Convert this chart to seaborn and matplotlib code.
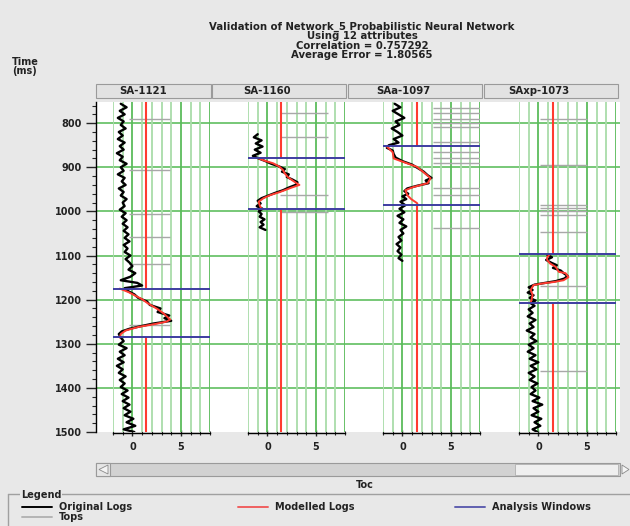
import numpy as np
import pandas as pd
import matplotlib
matplotlib.use("Agg")
import matplotlib.pyplot as plt
import seaborn as sns
from matplotlib.patches import Rectangle, Polygon
from matplotlib.lines import Line2D

sns.set_style("white")
plt.rcParams['font.family'] = ['DejaVu Sans']
plt.rcParams['font.weight'] = 'bold'

# ---------------- data ----------------
wells = ["SA-1121", "SA-1160", "SAa-1097", "SAxp-1073"]
title_lines = ["Validation of Network_5 Probabilistic Neural Network",
               "Using 12 attributes",
               "Correlation = 0.757292",
               "Average Error = 1.80565"]
time_ticks = [800, 900, 1000, 1100, 1200, 1300, 1400, 1500]
toc_ticks = [0, 5]

# Original logs (time ms, TOC)
orig1_t = [756, 764, 772, 780, 788, 796, 804, 812, 820, 828, 836, 844, 852, 860, 868, 876, 884, 892,
           900, 908, 916, 924, 932, 940, 948, 956, 964, 972, 980, 988, 996, 1004, 1012, 1020, 1028,
           1036, 1044, 1052, 1060, 1068, 1076, 1084, 1092, 1100, 1108, 1116, 1124, 1132, 1140, 1148,
           1156, 1162, 1168, 1174, 1180, 1188, 1196, 1204, 1212, 1220, 1228, 1236, 1242, 1248, 1254,
           1260, 1266, 1272, 1278, 1286, 1294, 1302, 1310, 1318, 1326, 1334, 1342, 1350, 1358, 1366,
           1374, 1382, 1390, 1398, 1406, 1414, 1422, 1430, 1438, 1446, 1454, 1462, 1470, 1478, 1486,
           1494, 1500]
orig1_v = [-1.2, -0.6, -1.3, -0.8, -1.5, -0.9, -1.2, -0.7, -1.4, -1.0, -1.5, -0.8, -1.3, -0.9, -1.6,
           -1.0, -1.3, -0.6, -1.2, -0.9, -1.5, -0.8, -1.1, -0.7, -1.4, -0.9, -1.2, -0.6, -1.0, -0.8,
           -1.3, -0.7, -1.1, -0.6, -1.0, -0.5, -0.9, -0.4, -0.8, -0.3, -0.9, -0.5, -0.8, -0.2, -0.7,
           -0.3, 0.0, -0.4, 0.3, -0.2, -1.2, 0.5, 1.0, -0.8, -0.5, 0.2, 0.6, 1.5, 1.8, 2.9, 2.6, 3.8,
           3.3, 4.0, 2.2, 0.9, -0.3, -1.1, -1.4, -1.2, -0.9, -1.4, -0.6, -1.3, -0.8, -1.5, -0.9, -1.6,
           -1.0, -1.4, -0.7, -1.3, -0.8, -1.2, -0.5, -1.1, -0.4, -1.0, -0.3, -0.9, -0.2, -0.8, 0.1,
           -0.6, 0.3, -0.9, 0.2]

orig2_t = [825, 832, 839, 846, 853, 860, 867, 874, 880, 886, 892, 898, 904, 910, 916, 922, 928, 934,
           940, 946, 952, 958, 964, 970, 976, 982, 988, 994, 1000, 1006, 1012, 1018, 1024, 1030,
           1036, 1042]
orig2_v = [-1.0, -1.4, -0.6, -1.2, -0.5, -1.3, -0.7, -1.5, -0.9, -0.2, 0.4, 1.2, 1.8, 1.5, 2.2, 2.0,
           2.6, 3.1, 2.9, 2.2, 1.6, 0.8, 0.1, -0.6, -1.0, -0.7, -1.1, -0.5, -0.9, -0.6, -0.8, -0.3,
           -0.7, -0.4, -0.8, -0.2]

orig3_t = [756, 764, 772, 780, 788, 796, 804, 812, 820, 828, 836, 844, 850, 856, 862, 870, 878, 886,
           894, 902, 910, 918, 924, 930, 936, 942, 948, 954, 960, 966, 972, 978, 986, 994, 1002,
           1010, 1018, 1026, 1034, 1042, 1050, 1058, 1066, 1074, 1082, 1090, 1098, 1106, 1112]
orig3_v = [-0.8, -0.2, -1.0, -0.4, 0.2, -0.7, -0.3, -1.1, -0.5, 0.0, -0.9, -0.4, -1.4, -1.6, -1.0,
           -0.9, -0.7, 0.0, 1.0, 1.6, 2.2, 2.6, 3.0, 2.4, 2.7, 1.5, 0.5, 0.2, 0.6, 0.0, 0.4, -0.2,
           0.3, -0.3, 0.2, -0.5, 0.1, -0.3, 0.4, -0.2, 0.1, -0.4, -0.1, -0.6, -0.2, -0.5, -0.1, -0.4,
           0.0]

orig4_t = [1098, 1104, 1110, 1116, 1122, 1128, 1134, 1140, 1146, 1152, 1158, 1162, 1166, 1172, 1178,
           1184, 1190, 1196, 1202, 1208, 1214, 1222, 1230, 1238, 1246, 1254, 1262, 1270, 1278, 1286,
           1294, 1302, 1310, 1318, 1326, 1334, 1342, 1350, 1358, 1366, 1374, 1382, 1390, 1398, 1406,
           1414, 1422, 1430, 1438, 1446, 1454, 1462, 1470, 1478, 1486, 1494, 1500]
orig4_v = [0.9, 1.4, 0.8, 1.3, 1.9, 1.5, 2.3, 2.6, 3.0, 2.7, 1.8, 0.7, -0.4, -1.0, -0.6, -1.1, -0.5,
           -0.9, -0.3, -0.8, -0.4, -1.0, -0.6, -1.1, -0.3, -0.9, -0.5, -1.2, -0.4, -0.8, -0.2, -1.0,
           -0.5, -1.1, -0.3, -0.9, 0.0, -0.8, -0.2, -1.0, -0.4, -0.9, -0.1, -0.7, -0.3, -0.8, 0.1,
           -0.6, 0.4, -0.5, 0.0, -0.7, 0.3, -0.4, 0.2, -0.6, -0.1]

# Modelled logs inside analysis windows
mod1_t = [1175, 1183, 1191, 1199, 1207, 1215, 1223, 1231, 1239, 1245, 1250, 1255, 1262, 1270, 1278, 1286]
mod1_v = [-1.3, -0.4, 0.3, 1.0, 1.5, 2.1, 2.7, 3.2, 3.6, 3.9, 3.5, 2.4, 0.6, -0.7, -1.2, -1.3]
mod2_t = [879, 885, 891, 898, 906, 914, 922, 930, 936, 940, 946, 956, 963, 970, 978, 986, 995]
mod2_v = [-1.0, -0.3, 0.6, 1.2, 1.6, 1.8, 2.1, 2.6, 3.0, 3.3, 2.5, 1.3, 0.3, -0.4, -0.9, -0.8, -0.6]
mod3_t = [853, 866, 880, 888, 899, 908, 917, 925, 936, 945, 952, 963, 972, 981, 986]
mod3_v = [-1.6, -1.0, -0.9, 0.1, 1.5, 2.0, 2.5, 2.9, 2.6, 1.1, 0.3, 0.5, 0.9, 1.5, 1.6]
mod4_t = [1097, 1104, 1110, 1118, 1126, 1137, 1140, 1149, 1156, 1160, 1163, 1167, 1178, 1189, 1200, 1207]
mod4_v = [1.2, 0.9, 0.9, 1.2, 1.8, 2.1, 2.8, 3.1, 2.6, 1.6, 0.5, -0.5, -0.8, -0.6, -0.7, -0.8]
modelled_base = [1.4, 1.45, 1.5, 1.5]

# Analysis windows (top, bottom ms)
windows = [(1175, 1285), (880, 995), (852, 986), (1097, 1208)]

# Tops (ms) and their TOC extent
tops1 = [790, 905, 1005, 1058, 1120, 1258]
tops2 = [778, 832, 962, 1002]
tops3 = [765, 778, 790, 800, 808, 842, 866, 880, 890, 948, 962, 1038]
tops4 = [790, 895, 985, 993, 1000, 1008, 1047, 1168, 1362]
tops_span = [(-0.3, 3.9), (1.3, 6.2), (3.2, 8.2), (0.2, 5.0)]

orig_t = [orig1_t, orig2_t, orig3_t, orig4_t]
orig_v = [orig1_v, orig2_v, orig3_v, orig4_v]
mod_t = [mod1_t, mod2_t, mod3_t, mod4_t]
mod_v = [mod1_v, mod2_v, mod3_v, mod4_v]
tops = [tops1, tops2, tops3, tops4]

# ---------------- layout ----------------
W, H = 630, 526
BG = '#e8e8e8'
fig = plt.figure(figsize=(6.3, 5.26), dpi=100, facecolor=BG)


def fax(x0, y0, x1, y1):
    return [x0 / W, 1 - y1 / H, (x1 - x0) / W, (y1 - y0) / H]


def fx(x):
    return x / W


def fy(y):
    return 1 - y / H


YTOP, YBOT = 752, 1500
GREEN_H = '#6cc46c'
GREEN_D = '#5cbc5c'
GREEN_L = '#a9dca9'
RED = '#ff3b30'
BLUE = '#3c3ca0'
GRAY = '#a8a8a8'
FS = 7.0
FT = 7.3

ax0 = fig.add_axes(fax(96, 102, 620, 432))
ax0.set_facecolor('white')
ax0.set_xlim(0, 1)
ax0.set_ylim(YBOT, YTOP)
ax0.hlines(time_ticks[:-1], 0, 1, color=GREEN_H, lw=1.3, zorder=1)
ax0.set_yticks(time_ticks)
ax0.set_yticks(np.arange(760, 1500, 20), minor=True)
ax0.tick_params(axis='y', which='major', direction='out', length=7, width=1, pad=3, left=True,
                labelsize=FS, labelcolor='#222222')
ax0.tick_params(axis='y', which='minor', direction='out', length=3, width=0.8, left=True)
ax0.set_yticklabels([str(t) for t in time_ticks])
ax0.set_xticks([])
for s in ['top', 'right', 'bottom']:
    ax0.spines[s].set_visible(False)
ax0.spines['left'].set_color('black')
ax0.spines['left'].set_linewidth(1)

track_left = [113, 248, 383, 519]
TW = 97
for i, w in enumerate(wells):
    x0 = track_left[i]
    ax = fig.add_axes(fax(x0, 102, x0 + TW, 432))
    ax.patch.set_alpha(0)
    ax.set_xlim(-2, 8)
    ax.set_ylim(YBOT, YTOP)
    for v in range(-2, 9):
        ax.axvline(v, color=GREEN_D if v in (0, 5, 8) else GREEN_L, lw=1.3, zorder=1)
    # tops
    ax.hlines(tops[i], tops_span[i][0], tops_span[i][1], color=GRAY, lw=1.0, zorder=2)
    # modelled baseline outside window
    wt, wb = windows[i]
    ax.vlines(modelled_base[i], YTOP, wt, color=RED, lw=1.5, zorder=3)
    ax.vlines(modelled_base[i], wb, YBOT, color=RED, lw=1.5, zorder=3)
    # original log
    df_o = pd.DataFrame({'toc': orig_v[i], 'time': orig_t[i]})
    sns.lineplot(data=df_o, x='toc', y='time', orient='y', estimator=None, color='black',
                 lw=1.7, ax=ax, zorder=4)
    df_m = pd.DataFrame({'toc': mod_v[i], 'time': mod_t[i]})
    sns.lineplot(data=df_m, x='toc', y='time', orient='y', estimator=None, color=RED,
                 lw=1.4, ax=ax, zorder=5)
    ax.hlines([wt, wb], -2, 8, color=BLUE, lw=1.4, zorder=6)
    ax.set_ylim(YBOT, YTOP)
    ax.set_xlim(-2, 8)
    ax.set_xlabel('')
    ax.set_ylabel('')
    ax.set_yticks([])
    ax.set_xticks(toc_ticks)
    ax.set_xticks(range(-2, 9), minor=True)
    ax.tick_params(axis='x', which='major', direction='inout', length=5, width=1, pad=4, bottom=True,
                   labelsize=FS, labelcolor='#222222')
    ax.tick_params(axis='x', which='minor', direction='inout', length=3, width=0.8, bottom=True)
    ax.set_xticklabels([str(t) for t in toc_ticks])
    for s in ['top', 'right', 'left']:
        ax.spines[s].set_visible(False)
    ax.spines['bottom'].set_color('black')
    ax.spines['bottom'].set_linewidth(1)
    ax.spines['bottom'].set_position(('outward', 1))

# header boxes
hdr = [(96, 211), (212, 346), (348, 482), (484, 618)]
for (a, b), w in zip(hdr, wells):
    fig.add_artist(Rectangle((fx(a), fy(98)), (b - a) / W, 14 / H, transform=fig.transFigure,
                             facecolor='#e2e2e2', edgecolor='#9a9a9a', lw=0.8))
    fig.text(fx(a + 0.41 * (b - a)), fy(91), w, ha='center', va='center', fontsize=FT,
             color='#222222')

# title
for k, line in enumerate(title_lines):
    fig.text(fx(362), fy(27 + 9.3 * k), line, ha='center', va='center', fontsize=FT,
             color='#222222')
fig.text(fx(12), fy(62), "Time", ha='left', va='center', fontsize=FS, color='#222222')
fig.text(fx(12), fy(71), "(ms)", ha='left', va='center', fontsize=FS, color='#222222')

# scrollbar
fig.add_artist(Rectangle((fx(96), fy(476)), 524 / W, 13 / H, transform=fig.transFigure,
                         facecolor='#d2d2d2', edgecolor='#9a9a9a', lw=0.8))
fig.add_artist(Rectangle((fx(515), fy(475)), 103 / W, 11 / H, transform=fig.transFigure,
                         facecolor='#efefef', edgecolor='#b0b0b0', lw=0.6))
fig.add_artist(Rectangle((fx(96), fy(476)), 14 / W, 13 / H, transform=fig.transFigure,
                         facecolor='#e6e6e6', edgecolor='#9a9a9a', lw=0.8))
fig.add_artist(Polygon([[fx(99), fy(469.5)], [fx(108), fy(465)], [fx(108), fy(474)]], closed=True,
                       transform=fig.transFigure, facecolor='#f4f4f4', edgecolor='#8a8a8a', lw=0.6))
fig.add_artist(Polygon([[fx(629), fy(469.5)], [fx(622), fy(465)], [fx(622), fy(474)]], closed=True,
                       transform=fig.transFigure, facecolor='#f4f4f4', edgecolor='#8a8a8a', lw=0.6))
fig.text(fx(365), fy(485), "Toc", ha='center', va='center', fontsize=FS, color='#222222')

# legend frame
fig.add_artist(Line2D([fx(8), fx(630)], [fy(494), fy(494)], transform=fig.transFigure,
                      color='#a0a0a0', lw=1.0))
fig.add_artist(Line2D([fx(8), fx(8)], [fy(494), fy(526)], transform=fig.transFigure,
                      color='#a0a0a0', lw=1.0))
fig.text(fx(21), fy(495), "Legend", ha='left', va='center', fontsize=FS, color='#222222',
         bbox=dict(facecolor=BG, edgecolor='none', pad=0.5))
legend_items = [("Original Logs", 'black', 22, 507), ("Tops", '#b4b4b4', 22, 517),
                ("Modelled Logs", '#f06060', 238, 507), ("Analysis Windows", '#6060b0', 455, 507)]
for lab, col, lx, ly in legend_items:
    fig.add_artist(Line2D([fx(lx), fx(lx + 30)], [fy(ly), fy(ly)], transform=fig.transFigure,
                          color=col, lw=1.4))
    fig.text(fx(lx + 37), fy(ly), lab, ha='left', va='center', fontsize=FS, color='#222222')

fig.savefig("out.png", dpi=100, facecolor=BG)
